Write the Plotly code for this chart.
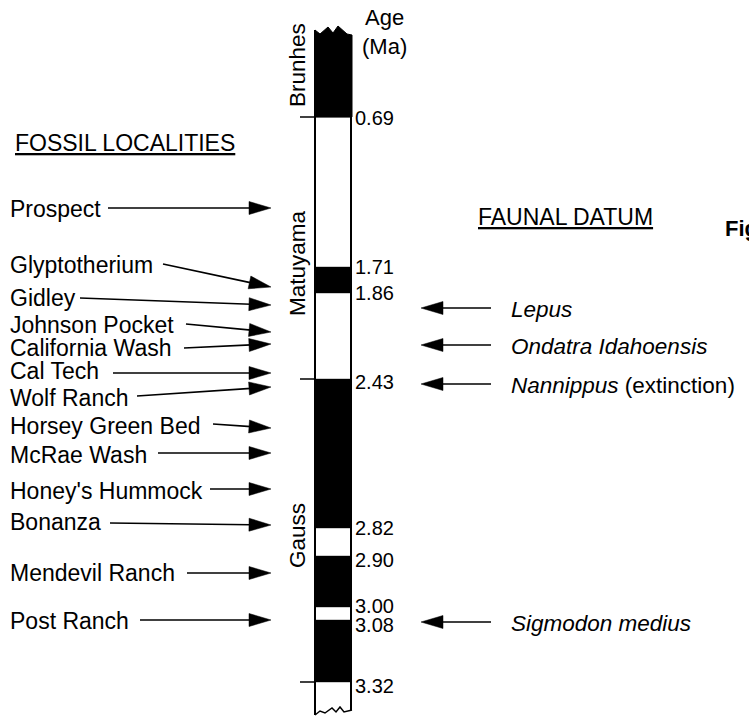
import plotly.graph_objects as go

# ---------------- data ----------------
# Polarity column (drawn not to scale: each boundary has a level on the column)
boundary_ages = [0.69, 1.71, 1.86, 2.43, 2.82, 2.90, 3.00, 3.08, 3.32]
boundary_level = [117, 267, 293, 379, 528, 556, 607, 620, 682]
age_label_nudge = [1, 0, 0, 3, 0, 4, -1, 5, 4]
normal_from = [None, 1.71, 2.43, 2.90, 3.08]   # None = top of column
normal_to = [0.69, 1.86, 2.82, 3.00, 3.32]
chron_limits = [0.69, 2.43, 3.32]
chron_names = ["Brunhes", "Matuyama", "Gauss"]
chron_label_level = [65, 263, 536]

top_zig_x = [315, 320, 328, 333, 338, 347, 352]
top_zig_y = [30, 34, 27, 33, 26, 34, 35]
bot_zig_x = [315, 320, 325, 332, 336, 340, 344, 352]
bot_zig_y = [715, 711, 713, 708, 712, 707, 712, 710]

# Fossil localities: label level, arrow tail x/level, arrow tip level
localities = ["Prospect", "Glyptotherium", "Gidley", "Johnson Pocket",
              "California Wash", "Cal Tech", "Wolf Ranch", "Horsey Green Bed",
              "McRae Wash", "Honey's Hummock", "Bonanza", "Mendevil Ranch",
              "Post Ranch"]
loc_label_level = [209, 265, 298, 325, 348, 371, 398, 426, 455, 491, 522, 573, 621]
loc_tail_x = [108, 163, 80, 186, 184, 113, 137, 213, 158, 210, 110, 187, 140]
loc_tail_level = [208, 264, 298, 324, 348, 373, 396, 424, 453, 489, 523, 573, 620]
loc_tip_level = [208, 287, 305, 332, 344, 373, 387, 428, 453, 489, 525, 573, 620]

# Faunal datum
fauna = ["<i>Lepus</i>", "<i>Ondatra Idahoensis</i>",
         "<i>Nannippus</i> (extinction)", "<i>Sigmodon medius</i>"]
fauna_level = [308, 345, 384, 622]

# ---------------- layout constants ----------------
COL_L, COL_R = 315, 351
LOC_TIP_X = 271
FAUNA_TIP_X, FAUNA_TAIL_X = 421, 491
FONT = "Liberation Sans, Arial, Helvetica, sans-serif"
HEAD_LEN, HEAD_HALF = 22, 6.5
MAIN_SIZE = 23

level_of = dict(zip(boundary_ages, boundary_level))

fig = go.Figure()
shapes = []
annotations = []

# faint boundary lines inside the column
for lv in boundary_level:
    shapes.append(dict(type="line", xref="x", yref="y", x0=COL_L, x1=COL_R,
                       y0=lv, y1=lv, line=dict(color="#9a9a9a", width=1), layer="below"))

# normal polarity blocks
for a0, a1 in zip(normal_from, normal_to):
    y1 = level_of[a1]
    if a0 is None:
        xs = top_zig_x + [COL_R + 1, COL_L]
        ys = top_zig_y + [y1, y1]
        fig.add_trace(go.Scatter(x=xs, y=ys, mode="lines", fill="toself",
                                 fillcolor="black", line=dict(color="black", width=1),
                                 hoverinfo="skip", showlegend=False))
    else:
        shapes.append(dict(type="rect", xref="x", yref="y", x0=COL_L, x1=COL_R + 1,
                           y0=level_of[a0], y1=y1, fillcolor="black",
                           line=dict(width=0)))

# column borders
fig.add_trace(go.Scatter(x=[COL_L, COL_L], y=[top_zig_y[0], bot_zig_y[0]], mode="lines",
                         line=dict(color="black", width=2), hoverinfo="skip", showlegend=False))
fig.add_trace(go.Scatter(x=[COL_R, COL_R], y=[top_zig_y[-1], bot_zig_y[-1]], mode="lines",
                         line=dict(color="black", width=2), hoverinfo="skip", showlegend=False))
fig.add_trace(go.Scatter(x=bot_zig_x, y=bot_zig_y, mode="lines",
                         line=dict(color="black", width=1.5), hoverinfo="skip", showlegend=False))

# chron boundary ticks
for a in chron_limits:
    lv = level_of[a]
    shapes.append(dict(type="line", xref="x", yref="y", x0=300, x1=COL_L,
                       y0=lv, y1=lv, line=dict(color="black", width=1.5)))

# age labels
for a, lv, nd in zip(boundary_ages, boundary_level, age_label_nudge):
    annotations.append(dict(x=COL_R + 2, y=lv + nd, xref="x", yref="y", text=f"{a:.2f}",
                            showarrow=False, xanchor="left", yanchor="middle",
                            font=dict(family=FONT, size=20, color="black")))

# chron names (rotated)
for nm, lv in zip(chron_names, chron_label_level):
    annotations.append(dict(x=297, y=lv, xref="x", yref="y", text=nm, textangle=-90,
                            showarrow=False, xanchor="center", yanchor="middle",
                            font=dict(family=FONT, size=22.5, color="black")))

# Age (Ma)
annotations.append(dict(x=384, y=32, xref="x", yref="y", text="Age<br>(Ma)",
                        showarrow=False, xanchor="center", yanchor="middle", align="center",
                        font=dict(family=FONT, size=22, color="black")))

# headings
annotations.append(dict(x=13, y=143, xref="x", yref="y", text="<u>FOSSIL LOCALITIES</u>",
                        showarrow=False, xanchor="left", yanchor="middle",
                        font=dict(family=FONT, size=MAIN_SIZE, color="black")))
annotations.append(dict(x=476, y=217, xref="x", yref="y", text="<u>FAUNAL DATUM</u>",
                        showarrow=False, xanchor="left", yanchor="middle",
                        font=dict(family=FONT, size=MAIN_SIZE, color="black")))
annotations.append(dict(x=723, y=228, xref="x", yref="y", text="<b>Figure</b>",
                        showarrow=False, xanchor="left", yanchor="middle",
                        font=dict(family=FONT, size=22, color="black")))

# arrows helper
line_x, line_y, head_x, head_y = [], [], [], []


def add_arrow(x0, y0, x1, y1):
    dx, dy = x1 - x0, y1 - y0
    d = (dx * dx + dy * dy) ** 0.5
    ux, uy = dx / d, dy / d
    nx, ny = -uy, ux
    bx, by = x1 - HEAD_LEN * ux, y1 - HEAD_LEN * uy
    line_x.extend([x0, bx + 2 * ux, None])
    line_y.extend([y0, by + 2 * uy, None])
    head_x.extend([x1, bx + HEAD_HALF * nx, bx - HEAD_HALF * nx, x1, None])
    head_y.extend([y1, by + HEAD_HALF * ny, by - HEAD_HALF * ny, y1, None])


for nm, ll, tx, tl, pl in zip(localities, loc_label_level, loc_tail_x,
                              loc_tail_level, loc_tip_level):
    annotations.append(dict(x=8, y=ll, xref="x", yref="y", text=nm, showarrow=False,
                            xanchor="left", yanchor="middle",
                            font=dict(family=FONT, size=MAIN_SIZE, color="black")))
    add_arrow(tx, tl, LOC_TIP_X, pl)

for nm, lv in zip(fauna, fauna_level):
    annotations.append(dict(x=509, y=lv + 1, xref="x", yref="y", text=nm, showarrow=False,
                            xanchor="left", yanchor="middle",
                            font=dict(family=FONT, size=22.5, color="black")))
    add_arrow(FAUNA_TAIL_X, lv, FAUNA_TIP_X, lv)

fig.add_trace(go.Scatter(x=line_x, y=line_y, mode="lines",
                         line=dict(color="black", width=1.7), hoverinfo="skip",
                         showlegend=False))
fig.add_trace(go.Scatter(x=head_x, y=head_y, mode="lines", fill="toself",
                         fillcolor="black", line=dict(color="black", width=0.5),
                         hoverinfo="skip", showlegend=False))

fig.update_layout(
    width=749, height=716,
    margin=dict(l=0, r=0, t=0, b=0),
    paper_bgcolor="white", plot_bgcolor="white",
    xaxis=dict(range=[0, 749], visible=False, fixedrange=True),
    yaxis=dict(range=[716, 0], visible=False, fixedrange=True),
    shapes=shapes, annotations=annotations, showlegend=False,
)

fig.write_html("out.html")
